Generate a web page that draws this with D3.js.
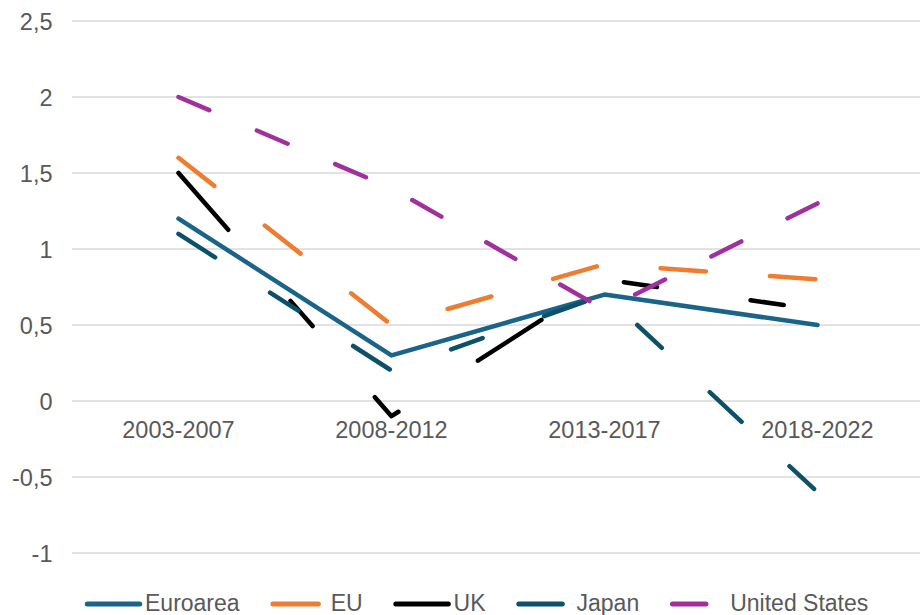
<!DOCTYPE html>
<html>
<head>
<meta charset="utf-8">
<script src="https://cdn.jsdelivr.net/npm/d3@7"></script>
<style>
  html, body { margin: 0; padding: 0; background: #fff; }
  svg { display: block; }
  text { font-family: "Liberation Sans", Arial, sans-serif; fill: #595959; }
</style>
</head>
<body>
<svg id="chart" width="920" height="615"></svg>
<script>
// ---- data ----
const categories = ["2003-2007", "2008-2012", "2013-2017", "2018-2022"];
const seriesNames = ["Euroarea", "EU", "UK", "Japan", "United States"];
const euroarea = [1.2, 0.3, 0.7, 0.5];
const eu = [1.6, 0.5, 0.9, 0.8];
const uk = [1.5, -0.1, 0.8, 0.6];
const japan = [1.1, 0.2, 0.7, -0.6];
const unitedStates = [2.0, 1.4, 0.6, 1.3];
const yTicks = [-1, -0.5, 0, 0.5, 1, 1.5, 2, 2.5];
const yTickLabels = ["-1", "-0,5", "0", "0,5", "1", "1,5", "2", "2,5"];

// ---- styles ----
const LW = 4.5;
const styles = {
  "Euroarea": { color: "#1a6489", dash: null },
  "EU": { color: "#ed7d31", dash: "45.5 64.2" },
  "UK": { color: "#000000", dash: "75.5 94.5 33.5 94.5 33.5 94.5" },
  "Japan": { color: "#0d5169", dash: "43.5 65.3 33.5 65.3" },
  "United States": { color: "#a0309b", dash: "33.5 51.7" }
};
const seriesData = {
  "Euroarea": euroarea, "EU": eu, "UK": uk, "Japan": japan, "United States": unitedStates
};
const drawOrder = ["EU", "UK", "Euroarea", "Japan", "United States"];

const svg = d3.select("#chart");

const x = d3.scalePoint().domain(categories).range([72, 924]).padding(0.5);
const y = d3.scaleLinear().domain([-1, 2.5]).range([553, 21]);

// gridlines
svg.append("g").selectAll("line").data(yTicks).join("line")
  .attr("x1", 72).attr("x2", 920)
  .attr("y1", d => y(d)).attr("y2", d => y(d))
  .attr("stroke", "#d9d9d9").attr("stroke-width", 1.3);

// y tick labels
svg.append("g").selectAll("text").data(yTicks).join("text")
  .attr("x", 52.5).attr("y", d => y(d) + 8.5)
  .attr("text-anchor", "end")
  .style("font-size", "23.5px")
  .text((d, i) => yTickLabels[i]);

// category labels
svg.append("g").selectAll("text").data(categories).join("text")
  .attr("x", d => x(d)).attr("y", y(0) + 37)
  .attr("text-anchor", "middle")
  .style("font-size", "23.5px")
  .text(d => d);

// lines
const line = d3.line().x((d, i) => x(categories[i])).y(d => y(d));
drawOrder.forEach(name => {
  const st = styles[name];
  svg.append("path")
    .datum(seriesData[name])
    .attr("d", line)
    .attr("fill", "none")
    .attr("stroke", st.color)
    .attr("stroke-width", LW)
    .attr("stroke-linecap", "round")
    .attr("stroke-linejoin", "round")
    .attr("stroke-dasharray", st.dash);
});

// legend
const lg = svg.append("g");
let lx = 85;
const ly = 604;
seriesNames.forEach(name => {
  const st = styles[name];
  lg.append("line")
    .attr("x1", lx + LW / 2).attr("x2", lx + 57 - LW / 2)
    .attr("y1", ly).attr("y2", ly)
    .attr("stroke", st.color).attr("stroke-width", 5)
    .attr("stroke-linecap", "round")
    .attr("stroke-dasharray", st.dash);
  const t = lg.append("text")
    .attr("x", lx + 60).attr("y", ly + 7)
    .style("font-size", "23px")
    .text(name);
  const w = t.node().getComputedTextLength();
  lx = lx + 60 + w + 31;
});
</script>
</body>
</html>
